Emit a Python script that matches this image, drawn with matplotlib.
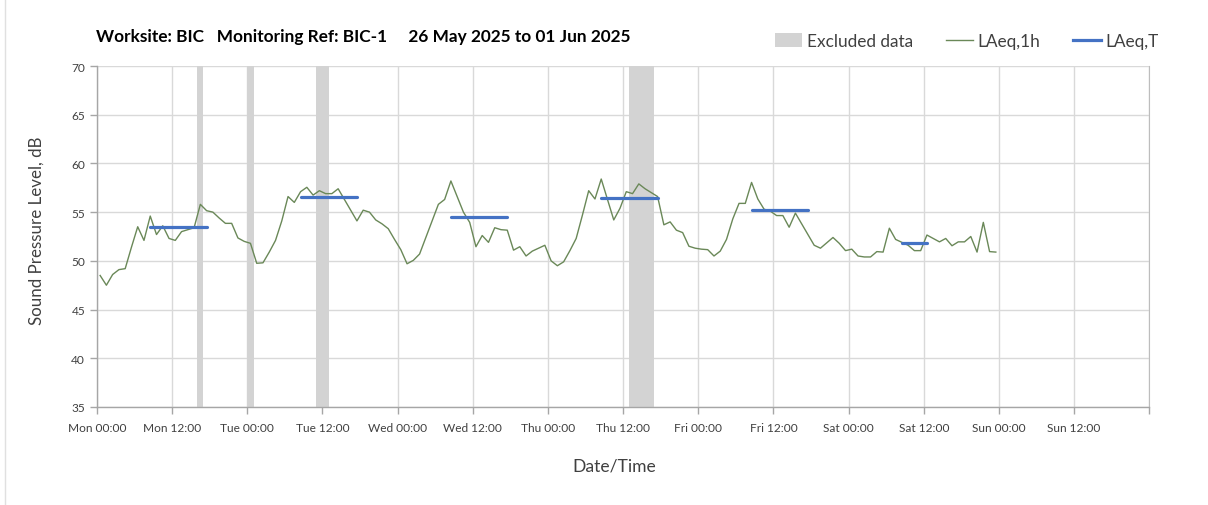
import matplotlib
matplotlib.use("Agg")
import matplotlib.pyplot as plt
from matplotlib.lines import Line2D
from matplotlib.patches import Patch
import numpy as np

# ---- data ----
laeq_1h = [
    48.5, 47.5, 48.6, 49.1, 49.2, 51.4, 53.5, 52.1, 54.6, 52.7, 53.6, 52.3,
    52.1, 53.0, 53.2, 53.4, 55.8, 55.15, 55.0, 54.4, 53.85, 53.85, 52.35, 52.0,
    51.8, 49.75, 49.8, 50.9, 52.1, 54.1, 56.6, 56.0, 57.1, 57.55, 56.75, 57.2,
    56.9, 56.9, 57.4, 56.3, 55.2, 54.1, 55.2, 55.0, 54.2, 53.8, 53.3, 52.2,
    51.15, 49.7, 50.05, 50.7, 52.4, 54.1, 55.8, 56.3, 58.2, 56.6, 55.0, 53.95,
    51.45, 52.6, 51.9, 53.4, 53.2, 53.15, 51.1, 51.45, 50.5, 51.0, 51.3, 51.6,
    50.0, 49.5, 49.9, 51.05, 52.3, 54.7, 57.2, 56.35, 58.4, 56.3, 54.2, 55.4,
    57.1, 56.9, 57.9, 57.4, 57.0, 56.6, 53.7, 54.0, 53.15, 52.9, 51.5, 51.3,
    51.2, 51.15, 50.5, 51.0, 52.2, 54.3, 55.9, 55.9, 58.05, 56.35, 55.3, 55.1,
    54.65, 54.65, 53.45, 54.9, 53.8, 52.7, 51.6, 51.3, 51.85, 52.4, 51.8, 51.05,
    51.2, 50.5, 50.4, 50.4, 50.95, 50.9, 53.35, 52.2, 51.9, 51.6, 51.05, 51.05,
    52.65, 52.3, 51.95, 52.3, 51.55, 51.95, 51.95, 52.5, 50.9, 53.95, 50.95, 50.9,
]
hours_1h = [i + 0.5 for i in range(len(laeq_1h))]   # hours since Mon 00:00

laeq_t_start = [8.5, 32.5, 56.5, 80.5, 104.5, 128.5]
laeq_t_end = [17.5, 41.5, 65.5, 89.5, 113.5, 132.5]
laeq_t_value = [53.5, 56.6, 54.5, 56.45, 55.2, 51.8]

excluded_start = [16, 24, 35, 85]
excluded_end = [17, 25, 37, 89]

tick_hours = list(range(0, 168, 12))
tick_labels = ["Mon 00:00", "Mon 12:00", "Tue 00:00", "Tue 12:00", "Wed 00:00",
               "Wed 12:00", "Thu 00:00", "Thu 12:00", "Fri 00:00", "Fri 12:00",
               "Sat 00:00", "Sat 12:00", "Sun 00:00", "Sun 12:00"]
y_ticks = [35, 40, 45, 50, 55, 60, 65, 70]

title_text = "Worksite: BIC   Monitoring Ref: BIC-1     26 May 2025 to 01 Jun 2025"

# ---- style ----
plt.rcParams['font.family'] = ['Lato', 'DejaVu Sans']
GREEN = '#6a8858'
BLUE = '#4472C4'
GREY = '#d3d3d3'
GRID = '#d9d9d9'
TXT = '#404040'

fig = plt.figure(figsize=(12.08, 5.06), dpi=100)
ax = fig.add_axes([97 / 1208, 98 / 506, (1149.3 - 97) / 1208, (408 - 67) / 506])

for s, e in zip(excluded_start, excluded_end):
    ax.axvspan(s, e, color=GREY, lw=0, zorder=1)

ax.plot(hours_1h, laeq_1h, color=GREEN, lw=1.0, zorder=3)
for s, e, v in zip(laeq_t_start, laeq_t_end, laeq_t_value):
    ax.plot([s, e], [v, v], color=BLUE, lw=2.3, solid_capstyle='round', zorder=4)

ax.set_xlim(0, 168)
ax.set_ylim(35, 70)
ax.set_xticks(tick_hours + [168])
ax.set_xticklabels(tick_labels + [""])
ax.set_yticks(y_ticks)
ax.grid(True, color=GRID, lw=1.0, zorder=0)
ax.set_axisbelow(True)
ax.spines['top'].set_visible(False)
ax.spines['right'].set_color('#bdbdbd')
for sp in ['left', 'bottom']:
    ax.spines[sp].set_color('#a6a6a6')
    ax.spines[sp].set_linewidth(1.0)
ax.tick_params(axis='both', colors='#a6a6a6', length=5, width=1.0,
               labelcolor=TXT, labelsize=8.6)
ax.tick_params(axis='x', pad=6)

fig.text(96 / 1208, 1 - 37 / 506, title_text, fontsize=12.4, fontweight='bold',
         color='black', ha='left', va='center')
fig.text(37 / 1208, 1 - 231 / 506, "Sound Pressure Level, dB", rotation=90,
         fontsize=12.2, color=TXT, ha='center', va='center')
fig.text(614 / 1208, 1 - 467 / 506, "Date/Time", fontsize=12.6, color=TXT,
         ha='center', va='center')

handles = [Patch(facecolor=GREY, edgecolor='none'),
           Line2D([], [], color=GREEN, lw=1.0),
           Line2D([], [], color=BLUE, lw=2.3)]
fig.legend(handles, ["Excluded data", "LAeq,1h", "LAeq,T"], ncol=3,
           loc='center left', bbox_to_anchor=(768 / 1208, 1 - 42 / 506),
           frameon=False, fontsize=12.4, handlelength=1.6, handleheight=0.8,
           handletextpad=0.25, columnspacing=1.9, labelcolor=TXT,
           borderaxespad=0)

fig.add_artist(Line2D([5 / 1208, 5 / 1208], [0, 1], color='#e0e0e0', lw=1.0,
                      transform=fig.transFigure))

fig.savefig("out.png", dpi=100)
